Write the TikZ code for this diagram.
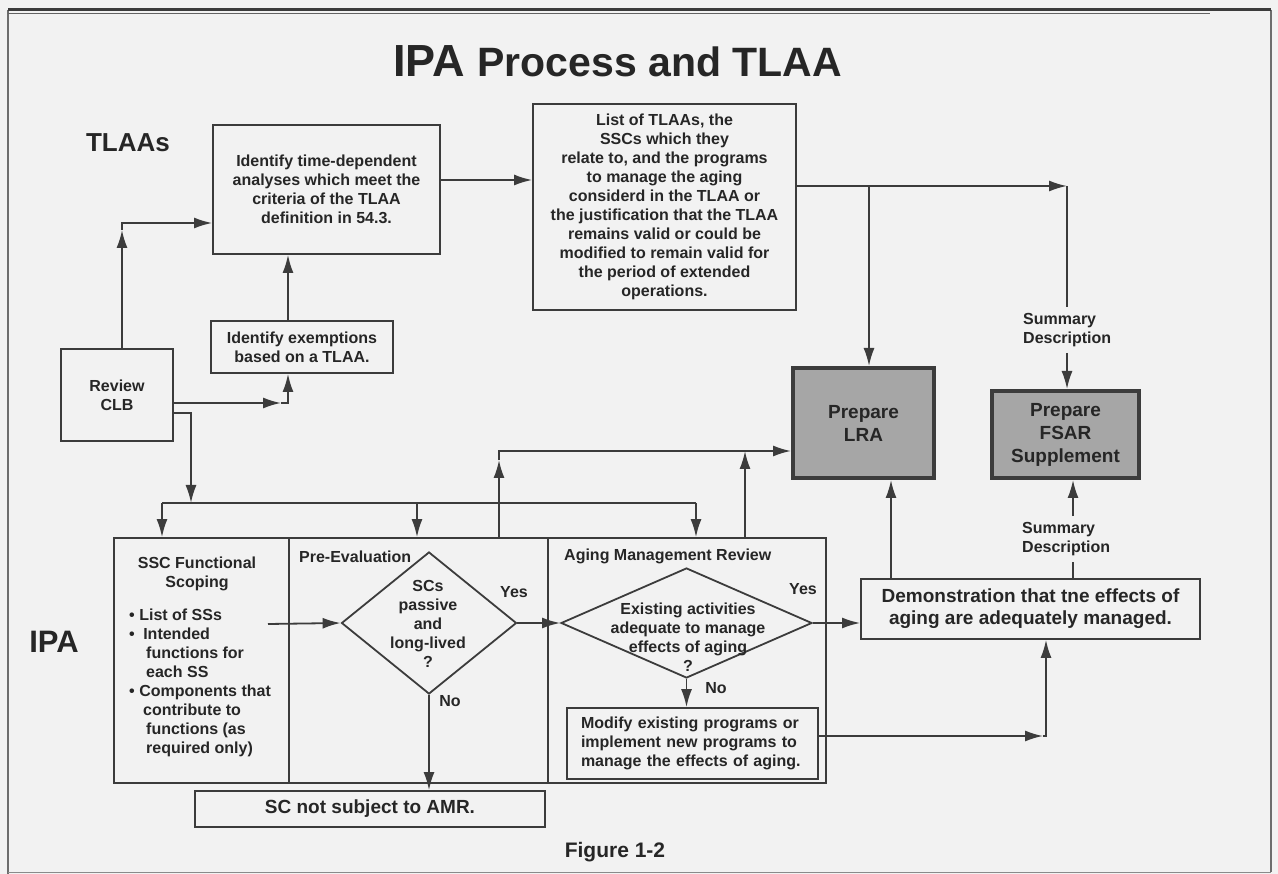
\documentclass[tikz,border=0pt]{standalone}
\usepackage{fontspec}
\setmainfont{Liberation Sans}
\usetikzlibrary{arrows.meta,shapes.geometric,calc}
\definecolor{ink}{HTML}{3C3C3C}
\definecolor{txt}{HTML}{262626}
\definecolor{paper}{HTML}{F2F2F2}
\definecolor{shade}{HTML}{A6A6A6}
\newcommand{\myfs}[2]{\fontsize{#1}{#2}\selectfont\bfseries}
\tikzset{
  line/.style={draw=ink, line width=1.8pt},
  arr/.style={line, -{Latex[length=18pt,width=11pt]}},
  box/.style={draw=ink, line width=1.8pt, fill=paper, inner sep=0pt, align=center, text=txt, font=\myfs{16}{19}},
  graybox/.style={draw=ink, line width=4pt, fill=shade, inner sep=0pt, align=center, text=txt, font=\myfs{19}{23}},
  dia/.style={diamond, draw=ink, line width=1.8pt, inner sep=0pt},
  lab/.style={inner sep=0pt, text=txt, font=\myfs{16}{19}},
}
\begin{document}
\begin{tikzpicture}[x=1pt,y=-1pt]
\useasboundingbox (0,0) rectangle (1278,874);
\fill[paper] (0,0) rectangle (1278,874);
% frame
\draw[ink!75, line width=1.2pt] (8,10) -- (8,874);
\draw[ink!75, line width=1.2pt] (1271,10) -- (1271,872);
\draw[ink!60, line width=1pt] (8,872) -- (1271,872);
\draw[ink, line width=2.2pt] (8,9.5) -- (1271,9.5);
\draw[ink!80, line width=1.3pt] (8,13.5) -- (1210,13.5);

% title and side labels
\node[anchor=base, inner sep=0pt, text=txt] (title) at (617.5,77) {\myfs{45}{48}IPA \myfs{41}{48}Process and TLAA};
\node[lab, font=\myfs{26}{30}] (tlaas) at (128,143) {TLAAs};
\node[lab, font=\myfs{31}{34}] (ipa) at (54,642) {IPA};
\node[lab, font=\myfs{21}{24}] (fig) at (615,852) {Figure 1-2};

% upper boxes
\node[box, minimum width=227pt, minimum height=129pt] (ident) at (326.5,189.5)
  {Identify time-dependent\\analyses which meet the\\criteria of the TLAA\\definition in 54.3.};
\node[box, minimum width=263pt, minimum height=206pt] (list) at (664.5,207)
  {List of TLAAs, the\\SSCs which they\\relate to, and the programs\\to manage the aging\\considerd in the TLAA or\\the justification that the TLAA\\remains valid or could be\\modified to remain valid for\\the period of extended\\operations.};
\node[box, minimum width=182pt, minimum height=52pt] (exempt) at (302,347)
  {Identify exemptions\\based on a TLAA.};
\node[box, minimum width=112pt, minimum height=92pt] (clb) at (117,395) {Review\\CLB};
\node[graybox, minimum width=141pt, minimum height=110pt] (lra) at (863.5,423) {Prepare\\LRA};
\node[graybox, minimum width=147pt, minimum height=87pt] (fsar) at (1065.5,434.5) {Prepare\\FSAR\\Supplement};
\node[lab, align=left, anchor=west, inner ysep=6pt] (sum1) at (1023,330) {Summary\\Description};
\node[lab, align=left, anchor=west, inner ysep=6pt] (sum2) at (1022,539) {Summary\\Description};

% lower IPA block
\node[box, minimum width=175pt, minimum height=245pt] (secA) at (201.5,660.5) {};
\node[box, minimum width=259pt, minimum height=245pt] (secB) at (418.5,660.5) {};
\node[box, minimum width=278pt, minimum height=245pt] (secC) at (687,660.5) {};
\node[lab, align=center] (sscH) at (197,573.5) {SSC Functional\\Scoping};
\node[lab, align=left, anchor=west] (sscL) at (129,683)
  {•\hspace{4.5pt}List of SSs\\
   •\hspace{8.5pt}Intended\\
   \hspace{17pt}functions for\\
   \hspace{17pt}each SS\\
   •\hspace{4.5pt}Components that\\
   \hspace{14pt}contribute to\\
   \hspace{17pt}functions (as\\
   \hspace{17pt}required only)};
\node[lab, anchor=west] (preL) at (299,557) {Pre-Evaluation};
\node[lab, anchor=west] (amrL) at (564,556) {Aging Management Review};
\node[dia, minimum width=175pt, minimum height=142pt] (d1) at (429,623) {};
\node[lab, align=center] (d1t) at (428,623.5) {SCs\\passive\\and\\long-lived\\?};
\node[dia, minimum width=251pt, minimum height=110pt] (d2) at (686.5,623) {};
\node[lab, align=center] (d2t) at (688,637) {Existing activities\\adequate to manage\\effects of aging\\?};
\node[lab] (yes1) at (514,592) {Yes};
\node[lab] (no1) at (450,701) {No};
\node[lab] (yes2) at (803,589) {Yes};
\node[lab] (no2) at (716,688) {No};
\node[box, minimum width=251pt, minimum height=71pt, text width=223pt, align=left] (modify) at (692.5,743.5)
  {Modify existing programs or\\implement new programs to\\manage the effects of aging.};
\node[box, minimum width=350pt, minimum height=36pt, font=\myfs{19}{22}] (notsub) at (370,809) {SC not subject to AMR.};
\node[box, minimum width=339pt, minimum height=60pt, font=\myfs{19}{22}] (demo) at (1030.5,609)
  {Demonstration that tne effects of\\aging are adequately managed.};

% connectors: TLAA part
\coordinate (cUp) at (122,223);
\draw[arr] (clb.north -| cUp) -- ([yshift=-7pt]cUp);
\draw[arr] ([yshift=-7pt]cUp) -- (cUp) -- (ident.west |- cUp);
\coordinate (cEx) at (288,403);
\draw[arr] (clb.east |- cEx) -- ([xshift=-7pt]cEx);
\draw[arr] ([xshift=-7pt]cEx) -- (cEx) -- (exempt.south -| cEx);
\draw[arr] (exempt.north -| cEx) -- (ident.south -| cEx);
\coordinate (yA) at (0,180);
\draw[arr] (ident.east |- yA) -- (list.west |- yA);
\coordinate (cR) at (1067,186);
\coordinate (cLra) at (869,186);
\draw[arr] (list.east |- cR) -- (cR);
\draw[line] (cR) -- (sum1.north -| cR);
\draw[arr] (sum1.south -| cR) -- (fsar.north -| cR);
\draw[arr] (cLra) -- (lra.north -| cLra);

% CLB to IPA bus
\coordinate (cB1) at (191,413);
\coordinate (bus) at (191,503);
\draw[arr] (clb.east |- cB1) -- (cB1) -- (bus);
\coordinate (bA) at (162,503);
\coordinate (bB) at (417,503);
\coordinate (bC) at (696,503);
\draw[line] (bA) -- (bC);
\draw[arr] (bA) -- (secA.north -| bA);
\draw[arr] (bB) -- (secB.north -| bB);
\draw[arr] (bC) -- (secC.north -| bC);

% IPA to LRA
\coordinate (cU) at (499,451);
\draw[arr] (secB.north -| cU) -- ([yshift=-9pt]cU);
\draw[arr] ([yshift=-9pt]cU) -- (cU) -- (lra.west |- cU);
\coordinate (cU2) at (745,451);
\draw[arr] (secC.north -| cU2) -- (cU2);

% inside IPA block
\coordinate (s1) at (268,624);
\draw[arr] (s1) -- (d1.west);
\draw[arr] (d1.east) -- (d2.west);
\draw[arr] (d1.south) -- (notsub.north -| d1.south);
\draw[arr] (d2.east) -- (demo.west |- d2.east);
\draw[arr] (d2.south) -- (modify.north -| d2.south);
\coordinate (cM) at (1046,736);
\draw[arr] (modify.east |- cM) -- ([xshift=-3pt]cM);
\draw[arr] ([xshift=-3pt]cM) -- (cM) -- (demo.south -| cM);
\coordinate (cD) at (891,0);
\draw[arr] (demo.north -| cD) -- (lra.south -| cD);
\coordinate (cS) at (1073,0);
\draw[line] (demo.north -| cS) -- (sum2.south -| cS);
\draw[arr] (sum2.north -| cS) -- (fsar.south -| cS);
\end{tikzpicture}
\end{document}
